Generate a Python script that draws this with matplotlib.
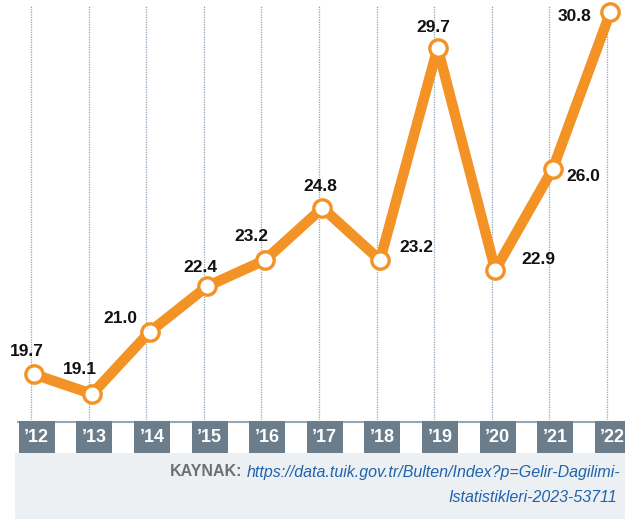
import matplotlib
matplotlib.use("Agg")
import matplotlib.pyplot as plt
from matplotlib.patches import Rectangle

plt.rcParams['font.family'] = ['Liberation Sans Narrow', 'Liberation Sans', 'DejaVu Sans']

# data
years = ["’12", "’13", "’14", "’15", "’16", "’17", "’18", "’19", "’20", "’21", "’22"]
values = [19.7, 19.1, 21.0, 22.4, 23.2, 24.8, 23.2, 29.7, 22.9, 26.0, 30.8]
# label offsets (px) from each point
label_dx = [-8, -12, -29, -7, -13, -2, 36, -4, 43, 30, -36]
label_dy = [23, 24, 13, 19, 24, 21, 13, 20, 10, -8, -5]

ORANGE = "#f39325"
SLATE = "#6b7d8b"

W, H = 625, 520
fig = plt.figure(figsize=(W / 100, H / 100), dpi=100)

xs = list(range(len(years)))
xlim = (-31 / 57.6, (W - 31) / 57.6)

# main chart, px y 0..420
ax = fig.add_axes([0, 100 / H, 1, 420 / H])
ax.set_xlim(*xlim)
ax.set_ylim(19.1 - 26 / 32.65, 19.1 + 394 / 32.65)
ax.axis("off")

ax.vlines(xs, 18.0, 19.1 + 389 / 32.65, colors="#8ea0b3", linestyles=(0, (1, 1)),
          linewidth=0.9, zorder=1)

px = [x + 0.06 for x in xs]
ax.plot(px, values, color=ORANGE, linewidth=7.5, solid_joinstyle="round", zorder=2)
ax.plot(px, values, "o", markersize=12.5, markerfacecolor="white",
        markeredgecolor=ORANGE, markeredgewidth=2.4, zorder=3)

for x, v, dx, dy in zip(px, values, label_dx, label_dy):
    ax.annotate(f"{v:.1f}", (x, v), xytext=(dx * 0.72, dy * 0.72),
                textcoords="offset points", ha="center", va="center",
                fontsize=12.5, fontweight="bold", color="#111111", zorder=4)

# tick strip, px y 420..455
tx = fig.add_axes([0, 65 / H, 1, 35 / H])
tx.set_xlim(*xlim)
tx.set_ylim(35, 0)
tx.axis("off")
tx.axhline(2.2, xmin=18 / W, color="#9aa6b0", linewidth=1.5, zorder=1)
tx.bar([x + 0.1 for x in xs], 32, width=36 / 57.6, bottom=1, color=SLATE, zorder=2)
for x, lab in zip(xs, years):
    tx.text(x + 0.1, 17.5, lab, ha="center", va="center", color="white",
            fontsize=13, fontweight="bold", zorder=3)

# source footer
fx = fig.add_axes([0, 0, 1, 1], zorder=-1)
fx.set_xlim(0, W)
fx.set_ylim(H, 0)
fx.axis("off")
fx.add_patch(Rectangle((15, 453), W - 15, 66, color="#edf0f3", lw=0))
t1 = fx.text(620, 472, "https://data.tuik.gov.tr/Bulten/Index?p=Gelir-Dagilimi-",
             ha="right", va="center", fontsize=11.5, style="italic", color="#1f63ad")
fx.text(617, 497, "Istatistikleri-2023-53711", ha="right", va="center",
        fontsize=11.5, style="italic", color="#1f63ad")

fig.canvas.draw()
bb = t1.get_window_extent()
left = bb.x0
# KAYNAK: placed just left of the first link line (pixel coords)
fx.text(left - 4, H - 472, "KAYNAK:", ha="right", va="center", fontsize=11.5,
        fontweight="bold", color="#6f6f6f", transform=None)

fig.savefig("out.png", dpi=100)
